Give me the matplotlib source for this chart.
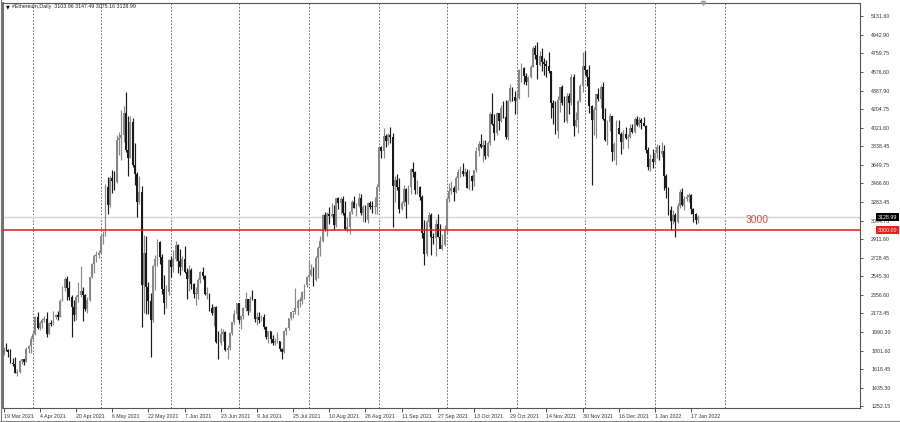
"""
Ethereum daily candles, MT4 style
"""

import numpy as np
import pandas as pd
import matplotlib
matplotlib.use("Agg")
import matplotlib.pyplot as plt
from matplotlib.lines import Line2D

# daily OHLC from 19 Mar 2021 to 20 Jan 2022 (one row per month)
opens = [
    1780, 1810, 1805, 1785, 1680, 1670, 1585, 1590, 1700, 1715, 1690, 1815, 1845,
    1920, 1970, 2135, 2025, 2080, 2105, 2115, 1970, 2075, 2070, 2135, 2155, 2140, 2300, 2430, 2515, 2425, 2340, 2235, 2160, 2340, 2360, 2400, 2360, 2215, 2310, 2535, 2660, 2745, 2755,
    2775, 2945, 2950, 3430, 3255, 3525, 3490, 3480, 3900, 3920, 3950, 4170, 3800, 3720, 4080, 3650, 3560, 3280, 3380, 2460, 2770, 2440, 2300, 2110, 2640, 2710, 2885, 2735, 2420, 2280, 2390,
    2700, 2630, 2710, 2855, 2690, 2630, 2710, 2590, 2520, 2610, 2470, 2370, 2370, 2510, 2590, 2550, 2370, 2370, 2230, 2180, 2240, 1890, 1875, 1970, 1990, 1810, 1830, 1980, 2085, 2165,
    2275, 2110, 2150, 2225, 2320, 2200, 2320, 2315, 2120, 2140, 2110, 2140, 2040, 1940, 1995, 1915, 1875, 1895, 1895, 1820, 1785, 1995, 2030, 2125, 2185, 2185, 2225, 2300, 2300, 2385, 2460,
    2535, 2555, 2605, 2505, 2720, 2825, 2890, 3155, 3010, 3160, 3140, 3165, 3050, 3320, 3270, 3310, 3170, 3010, 3030, 3180, 3285, 3225, 3240, 3320, 3170, 3230, 3100, 3270, 3235, 3230, 3230,
    3430, 3830, 3790, 3940, 3885, 3950, 3930, 3440, 3500, 3430, 3210, 3270, 3410, 3280, 3430, 3610, 3580, 3400, 3430, 3330, 2970, 2760, 3080, 3155, 2930, 2920, 3060, 2930, 2810, 2850,
    3000, 3310, 3390, 3420, 3385, 3520, 3580, 3590, 3560, 3580, 3420, 3540, 3490, 3600, 3790, 3860, 3830, 3850, 3740, 3870, 4160, 4060, 3970, 4170, 4090, 4220, 4130, 3930, 4290, 4420, 4330,
    4290, 4320, 4590, 4610, 4530, 4480, 4520, 4620, 4810, 4740, 4640, 4730, 4670, 4650, 4630, 4580, 4270, 4220, 3990, 4300, 4430, 4270, 4090, 4340, 4270, 4520, 4040, 4100, 4290, 4440,
    4630, 4590, 4520, 4240, 4100, 4200, 4360, 4310, 4430, 4110, 3900, 4080, 4140, 3780, 3860, 4020, 3960, 3880, 3960, 3920, 3930, 4020, 3980, 4110, 4050, 4100, 4070, 4040, 3800, 3630, 3710,
    3680, 3770, 3830, 3760, 3790, 3540, 3420, 3200, 3090, 3150, 3080, 3240, 3380, 3250, 3310, 3330, 3350, 3210, 3160, 3103.96,
]
highs = [
    1840, 1875, 1815, 1815, 1725, 1740, 1625, 1710, 1720, 1720, 1840, 1860, 1945,
    1995, 2145, 2190, 2100, 2130, 2150, 2185, 2085, 2110, 2200, 2165, 2200, 2320, 2450, 2540, 2550, 2500, 2360, 2310, 2360, 2490, 2640, 2440, 2370, 2340, 2540, 2670, 2760, 2795, 2800,
    2955, 2990, 3460, 3530, 3540, 3600, 3590, 3950, 3980, 4200, 4240, 4380, 4140, 4140, 4120, 3870, 3580, 3540, 3440, 2950, 2940, 2490, 2380, 2650, 2750, 2910, 2890, 2760, 2560, 2460, 2710,
    2740, 2800, 2890, 2860, 2810, 2740, 2840, 2620, 2650, 2620, 2480, 2440, 2530, 2600, 2630, 2560, 2440, 2380, 2270, 2250, 2250, 2000, 2030, 2020, 2000, 1860, 1990, 2090, 2210, 2280,
    2280, 2160, 2240, 2390, 2320, 2350, 2410, 2320, 2185, 2190, 2160, 2170, 2045, 2000, 2000, 1960, 1930, 1990, 1900, 1830, 2010, 2040, 2130, 2190, 2190, 2430, 2320, 2340, 2400, 2470, 2550,
    2690, 2660, 2630, 2740, 2840, 2940, 3160, 3180, 3180, 3230, 3270, 3250, 3320, 3330, 3330, 3340, 3290, 3130, 3190, 3300, 3340, 3270, 3370, 3360, 3250, 3250, 3280, 3290, 3290, 3330, 3465,
    3840, 3840, 4020, 3960, 3970, 4030, 3970, 3540, 3560, 3520, 3290, 3450, 3420, 3450, 3620, 3680, 3590, 3500, 3440, 3350, 3100, 3100, 3180, 3170, 2970, 3110, 3160, 3060, 2960, 3050,
    3340, 3470, 3490, 3440, 3540, 3610, 3640, 3670, 3620, 3610, 3600, 3550, 3600, 3830, 3890, 3960, 3900, 3900, 3890, 4180, 4370, 4160, 4180, 4170, 4250, 4290, 4300, 4300, 4460, 4430, 4390,
    4380, 4600, 4660, 4620, 4560, 4530, 4640, 4830, 4840, 4870, 4780, 4810, 4710, 4690, 4770, 4580, 4300, 4290, 4340, 4430, 4450, 4340, 4370, 4370, 4550, 4550, 4180, 4300, 4460, 4770,
    4780, 4600, 4640, 4250, 4230, 4360, 4420, 4450, 4480, 4220, 4100, 4170, 4140, 3880, 4100, 4100, 3980, 4000, 4030, 3960, 4060, 4060, 4130, 4140, 4130, 4120, 4130, 4050, 3830, 3760, 3810,
    3780, 3860, 3850, 3880, 3850, 3560, 3430, 3240, 3200, 3170, 3270, 3410, 3420, 3340, 3360, 3370, 3360, 3220, 3170, 3147.49,
]
lows = [
    1760, 1800, 1740, 1680, 1655, 1580, 1555, 1585, 1670, 1665, 1685, 1780, 1775,
    1900, 1960, 2015, 2010, 2030, 2090, 1940, 1965, 2050, 2060, 2115, 2110, 2140, 2300, 2400, 2310, 2310, 1940, 2100, 2110, 2290, 2340, 2100, 2200, 2180, 2300, 2525, 2580, 2680, 2720,
    2760, 2860, 2945, 3160, 3235, 3375, 3400, 3470, 3750, 3700, 3880, 3780, 3540, 3720, 3630, 3450, 3130, 3260, 2040, 2180, 2170, 2170, 1740, 2090, 2410, 2640, 2660, 2370, 2170, 2230, 2360,
    2540, 2590, 2690, 2580, 2560, 2610, 2580, 2320, 2400, 2420, 2330, 2260, 2320, 2480, 2520, 2360, 2320, 2200, 2160, 2050, 1880, 1720, 1860, 1900, 1800, 1720, 1810, 1960, 2070, 2115,
    2080, 2020, 2120, 2200, 2160, 2190, 2310, 2090, 2060, 2080, 2100, 2020, 1920, 1880, 1880, 1860, 1860, 1875, 1800, 1720, 1775, 1960, 2005, 2110, 2130, 2170, 2160, 2240, 2270, 2315, 2440,
    2510, 2550, 2450, 2495, 2530, 2740, 2880, 2990, 2940, 3060, 3130, 3000, 3030, 3210, 3160, 3150, 3000, 2980, 2960, 3160, 3220, 3140, 3235, 3150, 3080, 3080, 3070, 3210, 3170, 3160, 3160,
    3390, 3720, 3720, 3830, 3850, 3870, 3030, 3280, 3400, 3170, 3200, 3240, 3120, 3260, 3360, 3530, 3360, 3360, 3300, 2920, 2650, 2740, 3030, 2750, 2860, 2740, 2930, 2820, 2800, 2840,
    2960, 3280, 3360, 3290, 3370, 3400, 3530, 3540, 3540, 3420, 3400, 3400, 3440, 3580, 3740, 3820, 3680, 3710, 3730, 3850, 4050, 3900, 3950, 4000, 4080, 4120, 3910, 3900, 4280, 4290, 4160,
    4150, 4310, 4480, 4460, 4450, 4330, 4510, 4620, 4700, 4500, 4630, 4580, 4540, 4520, 4560, 4120, 4060, 3960, 3920, 4180, 4250, 4080, 4070, 4160, 4250, 3940, 4030, 3970, 4280, 4380,
    4540, 4440, 4170, 3450, 3950, 3920, 4290, 4220, 4100, 3890, 3850, 3990, 3690, 3700, 3650, 3960, 3760, 3810, 3910, 3820, 3920, 3970, 3970, 4040, 4030, 4010, 4040, 3770, 3600, 3590, 3620,
    3670, 3720, 3700, 3730, 3400, 3320, 3150, 3000, 3060, 2930, 3070, 3220, 3240, 3200, 3290, 3280, 3160, 3080, 3060, 3075.16,
]
closes = [
    1810, 1805, 1785, 1680, 1670, 1585, 1590, 1700, 1715, 1690, 1815, 1845, 1920,
    1970, 2135, 2025, 2080, 2105, 2115, 1970, 2075, 2070, 2135, 2155, 2140, 2300, 2430, 2515, 2425, 2340, 2235, 2160, 2340, 2360, 2400, 2360, 2215, 2310, 2535, 2660, 2745, 2755, 2775,
    2945, 2950, 3430, 3255, 3525, 3490, 3480, 3900, 3920, 3950, 4170, 3800, 3720, 4080, 3650, 3560, 3280, 3380, 2460, 2770, 2440, 2300, 2110, 2640, 2710, 2885, 2735, 2420, 2280, 2390, 2700,
    2630, 2710, 2855, 2690, 2630, 2710, 2590, 2520, 2610, 2470, 2370, 2370, 2510, 2590, 2550, 2370, 2370, 2230, 2180, 2240, 1890, 1875, 1970, 1990, 1810, 1830, 1980, 2085, 2165, 2275,
    2110, 2150, 2225, 2320, 2200, 2320, 2315, 2120, 2140, 2110, 2140, 2040, 1940, 1995, 1915, 1875, 1895, 1895, 1820, 1785, 1995, 2030, 2125, 2185, 2185, 2225, 2300, 2300, 2385, 2460, 2535,
    2555, 2605, 2505, 2720, 2825, 2890, 3155, 3010, 3160, 3140, 3165, 3050, 3320, 3270, 3310, 3170, 3010, 3030, 3180, 3285, 3225, 3240, 3320, 3170, 3230, 3100, 3270, 3235, 3230, 3230, 3430,
    3830, 3790, 3940, 3885, 3950, 3930, 3440, 3500, 3430, 3210, 3270, 3410, 3280, 3430, 3610, 3580, 3400, 3430, 3330, 2970, 2760, 3080, 3155, 2930, 2920, 3060, 2930, 2810, 2850, 3000,
    3310, 3390, 3420, 3385, 3520, 3580, 3590, 3560, 3580, 3420, 3540, 3490, 3600, 3790, 3860, 3830, 3850, 3740, 3870, 4160, 4060, 3970, 4170, 4090, 4220, 4130, 3930, 4290, 4420, 4330, 4290,
    4320, 4590, 4610, 4530, 4480, 4520, 4620, 4810, 4740, 4640, 4730, 4670, 4650, 4630, 4580, 4270, 4220, 3990, 4300, 4430, 4270, 4090, 4340, 4270, 4520, 4040, 4100, 4290, 4440, 4630,
    4590, 4520, 4240, 4100, 4200, 4360, 4310, 4430, 4110, 3900, 4080, 4140, 3780, 3860, 4020, 3960, 3880, 3960, 3920, 3930, 4020, 3980, 4110, 4050, 4100, 4070, 4040, 3800, 3630, 3710, 3680,
    3770, 3830, 3760, 3790, 3540, 3420, 3200, 3090, 3150, 3080, 3240, 3380, 3250, 3310, 3330, 3350, 3210, 3160, 3100, 3128.99,
]

level = 3000.00
last_price = 3128.99

y_ticks = [5131.60, 4942.90, 4759.75, 4576.60, 4387.90, 4204.75, 4021.60, 3838.45,
           3649.75, 3466.60, 3283.45, 3094.75, 2911.60, 2728.45, 2545.30, 2356.60,
           2173.45, 1990.30, 1801.60, 1618.45, 1435.30, 1252.15]
x_tick_labels = ["19 Mar 2021", "4 Apr 2021", "20 Apr 2021", "6 May 2021", "22 May 2021",
                 "7 Jun 2021", "23 Jun 2021", "9 Jul 2021", "25 Jul 2021", "10 Aug 2021",
                 "26 Aug 2021", "11 Sep 2021", "27 Sep 2021", "13 Oct 2021", "29 Oct 2021",
                 "14 Nov 2021", "30 Nov 2021", "16 Dec 2021", "1 Jan 2022", "17 Jan 2022"]

plt.rcParams['font.family'] = ['Liberation Sans', 'DejaVu Sans']

o = np.array(opens, dtype=float)
h = np.array(highs, dtype=float)
l = np.array(lows, dtype=float)
c = np.array(closes, dtype=float)
dates = pd.date_range("2021-03-19", periods=len(c), freq="D")
day = np.arange(len(c))

fig = plt.figure(figsize=(9, 4.22), dpi=100)
ax = fig.add_axes([3 / 900, 1 - 408 / 422, 857 / 900, 405 / 422])
ax.set_xlim(-0.3, 378.7)
ax.set_ylim(1232.4, 5260.9)

# month separators
month_starts = pd.date_range("2021-04-01", "2022-02-01", freq="MS")
for m in month_starts:
    ax.axvline((m - dates[0]).days, color='#555555', lw=0.6, ls=(0, (2, 2)), zorder=1)

# bid line and support level
ax.axhline(last_price, color='#d4d4d4', lw=1.0, zorder=1)
ax.axhline(level, color='#e01818', lw=1.1, zorder=3)

# candles
up = c >= o
cols = np.where(up, '#888888', '#1a1a1a')
ax.vlines(day, l, h, colors=cols, lw=0.85, zorder=2)
body = np.maximum(np.abs(c - o), 8)
ax.bar(day, body, bottom=np.minimum(o, c), width=0.8, color=cols, lw=0, zorder=2)

ax.text(328, 3102, "3000", color='#e84a3f', fontsize=7.5, ha='left', va='center')

# axes styling
for side in ['left', 'top', 'right', 'bottom']:
    ax.spines[side].set_color('#555555')
    ax.spines[side].set_linewidth(0.8)
ax.spines['left'].set_linewidth(1.2)

ax.yaxis.tick_right()
ax.set_yticks(y_ticks)
ax.set_yticklabels(["%.2f" % v for v in y_ticks])
ax.tick_params(axis='y', labelsize=3.8, length=2, width=0.6, pad=6,
               colors='#333333', direction='out')

ax.set_xticks(np.arange(0, 16 * len(x_tick_labels), 16))
ax.set_xticklabels(x_tick_labels)
ax.tick_params(axis='x', labelsize=3.8, length=3, width=0.6, pad=1.5,
               colors='#333333', direction='out')
for t in ax.get_xticklabels():
    t.set_horizontalalignment('left')

# price tags on the scale
ytr = ax.get_yaxis_transform()
ax.text(1.021, last_price, "%.2f" % last_price, transform=ytr, color='white',
        fontsize=3.8, ha='left', va='center', clip_on=False, zorder=5,
        bbox=dict(boxstyle='square,pad=0.3', fc='black', ec='none'))
ax.text(1.021, level, "%.2f" % level, transform=ytr, color='white',
        fontsize=3.8, ha='left', va='center', clip_on=False, zorder=5,
        bbox=dict(boxstyle='square,pad=0.3', fc='#f01c1c', ec='none'))

# header
ax.text(0.0035, 0.9915, "\u25bc", transform=ax.transAxes, fontsize=3.5,
        ha='left', va='center', color='black', family=['DejaVu Sans'])
ax.text(0.0105, 0.9915, "#Ethereum,Daily  3103.96 3147.49 3075.16 3128.99",
        transform=ax.transAxes, fontsize=3.8, ha='left', va='center', color='#222222')

# chart shift marker
ax.plot([309.3], [5260.9], marker='v', ms=3, color='#a0a0a0', clip_on=False, zorder=6)

# window frame bits
fig.add_artist(Line2D([0.001, 0.001], [0, 1], color='#777777', lw=0.8))
fig.add_artist(Line2D([0, 1], [1.5 / 422, 1.5 / 422], color='#888888', lw=0.8))

fig.savefig("out.png", dpi=100, facecolor='white')
